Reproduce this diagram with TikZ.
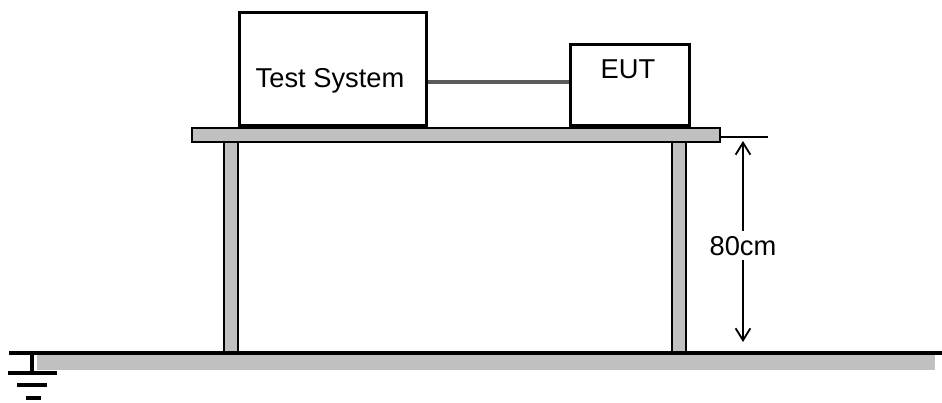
\documentclass[tikz,border=0pt]{standalone}
\usepackage{fontspec}
\setmainfont{Liberation Sans}
\usetikzlibrary{arrows.meta}
\definecolor{slabgray}{HTML}{C0C0C0}
\definecolor{cablegray}{HTML}{5A5A5A}
\newcommand{\px}{0.025cm}

\begin{document}
\begin{tikzpicture}[x = 0.025cm, y = -0.025cm,
	unit/.style = {draw, rectangle, line width = 2.4pt, inner sep = 0pt},
	slab/.style = {draw, line width = 1.5pt, fill = slabgray},
	earth/.style = {line width = 2.4pt},
	cable/.style = {draw = cablegray, line width = 2.3pt},
	dimarrow/.style = {line width = 1.3pt, -{Straight Barb[length=8.5pt,width=10.5pt,line width=1.3pt]}},
	every node/.style = {font = \fontsize{19.4}{23}\selectfont}]
\useasboundingbox (0 ,0) rectangle (942 ,402);
% floor
\fill [slabgray] (37 ,355) rectangle (935 ,370);
\draw [earth] (9 ,353) -- (942 ,353);
\draw [earth] (32 ,353) -- (32 ,373);
\draw [earth] (8 ,373) -- (57 ,373);
\draw [earth] (17 ,385) -- (47 ,385);
\draw [earth] (26 ,398) -- (41 ,398);
% table
\draw [slab] (224 ,142) rectangle (238 ,352);
\draw [slab] (672 ,142) rectangle (686 ,352);
\draw [slab] (192 ,128) rectangle (720 ,142);
% units on the table
\node [unit, minimum width = 187*\px, minimum height = 113*\px] (testsys) at (333 ,69) {};
\node [unit, minimum width = 119*\px, minimum height = 81*\px] (eut) at (630 ,85) {};
\node [anchor = base] (testtext) at (330 ,87) {Test System};
\node [anchor = base] (euttext) at (628 ,78) {EUT};
\draw [cable] ([yshift = 2.1pt]eut.west) -- ([yshift = 2.1pt]eut.west -| testsys.east);
% height
\coordinate (tickl) at (720 ,137);
\coordinate (tickr) at (768 ,137);
\coordinate (htop) at (743 ,141);
\coordinate (hbot) at (743 ,342);
\draw [line width = 1pt] (tickl) -- (tickr);
\node [anchor = base] (height) at (743 ,255) {80cm};
\draw [dimarrow] (height.north) -- (htop);
\draw [dimarrow] (height.south) -- (hbot);
\end{tikzpicture}
\end{document}
